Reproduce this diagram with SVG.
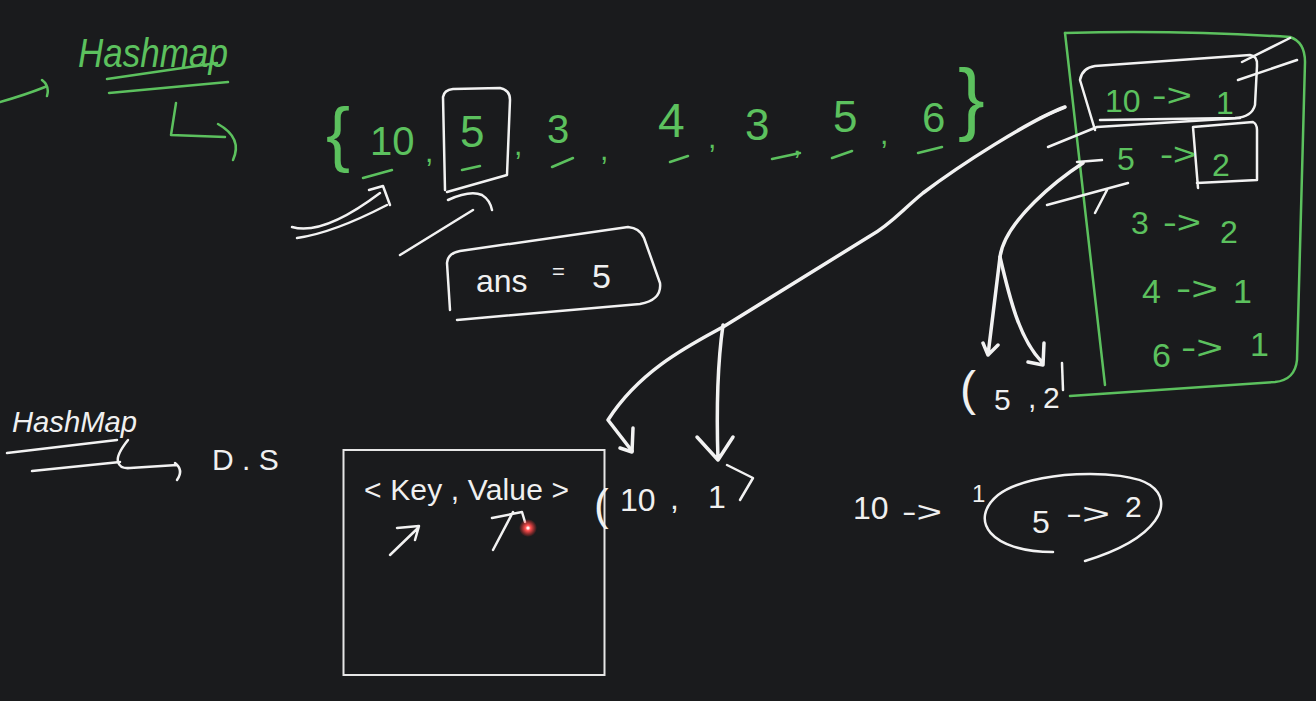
<svg xmlns="http://www.w3.org/2000/svg" width="1316" height="701" viewBox="0 0 1316 701">
<defs>
<style>
.gt{fill:#5cc15e;font-family:"Liberation Sans",Arial,sans-serif}
.wt{fill:#f0f0f0;font-family:"Liberation Sans",Arial,sans-serif}
.gs{fill:none;stroke:#5cc15e;stroke-width:2.5;stroke-linecap:round;stroke-linejoin:round}
.ws{fill:none;stroke:#f2f2f2;stroke-width:2.5;stroke-linecap:round;stroke-linejoin:round}
.wb{fill:none;stroke:#f2f2f2;stroke-width:3.5;stroke-linecap:round;stroke-linejoin:round}
</style>
<radialGradient id="laser">
<stop offset="0" stop-color="#ffe0e0"/>
<stop offset="0.3" stop-color="#ff5050"/>
<stop offset="1" stop-color="#ff3030" stop-opacity="0"/>
</radialGradient>
</defs>
<rect width="1316" height="701" fill="#1a1b1d"/>

<g id="title-hashmap-top">
<path class="gs" d="M0,102 Q25,95 45,87 M42,80 Q50,86 47,96"/>
<text class="gt" x="78" y="67" font-size="40" textLength="150" lengthAdjust="spacingAndGlyphs" font-style="italic">Hashmap</text>
<path class="gs" d="M107,79 L217,63 M109,93 L228,82"/>
<path class="gs" d="M176,103 L171,135 L225,137 M218,124 Q243,138 233,160"/>
</g>

<g id="array">
<text class="gt" x="326" y="158" font-size="72">{</text>
<text class="gt" x="370" y="155" font-size="40">10</text>
<path class="gs" d="M363,178 L392,170"/>
<text class="gt" x="425" y="162" font-size="30">,</text>
<text class="gt" x="460" y="147" font-size="44">5</text>
<path class="gs" d="M462,170 L480,166"/>
<text class="gt" x="514" y="155" font-size="30">,</text>
<text class="gt" x="547" y="143" font-size="40">3</text>
<path class="gs" d="M552,167 L573,158"/>
<text class="gt" x="600" y="160" font-size="30">,</text>
<text class="gt" x="658" y="137" font-size="48">4</text>
<path class="gs" d="M670,162 L688,156"/>
<text class="gt" x="708" y="148" font-size="30">,</text>
<text class="gt" x="745" y="140" font-size="44">3</text>
<path class="gs" d="M772,159 L800,153"/>
<text class="gt" x="793" y="154" font-size="30">,</text>
<text class="gt" x="833" y="132" font-size="44">5</text>
<path class="gs" d="M832,158 L852,151"/>
<text class="gt" x="880" y="144" font-size="30">,</text>
<text class="gt" x="922" y="132" font-size="42">6</text>
<path class="gs" d="M918,153 L942,147"/>
<text class="gt" x="958" y="125" font-size="80">}</text>
<path class="ws" d="M445,190 L443,97 Q444,90 453,89 L500,88 Q510,90 510,100 L507,175 L447,192"/>
</g>

<g id="ans-box">
<path class="ws" d="M450,310 L447,263 Q448,253 460,251 L628,227 Q640,228 644,238 L660,283 Q662,300 640,304 L457,320"/>
<text class="wt" x="476" y="292" font-size="32">ans</text>
<text class="wt" x="552" y="279" font-size="22">=</text>
<text class="wt" x="592" y="288" font-size="34">5</text>
</g>

<g id="map-box">
<path class="gs" d="M1065,33 L1105,385"/>
<path class="gs" d="M1065,33 Q1180,30 1290,37 Q1305,42 1305,62 L1297,360 Q1295,380 1275,382 L1070,396"/>
<path class="ws" d="M1080,80 Q1082,68 1095,66 L1250,55 Q1258,56 1257,66 L1255,105 Q1252,117 1235,118 L1100,120 M1080,80 L1095,130"/>
<path class="ws" d="M1242,62 L1290,38 M1238,80 L1297,60"/>
<path class="ws" d="M1193,127 L1253,122 Q1257,124 1257,130 L1257,180 L1197,183 M1193,127 L1198,188"/>
<path class="ws" d="M1048,147 L1097,127 L1240,118 M1040,118 L1065,107 M1077,162 L1102,160 M1047,205 L1128,183 M1095,213 L1107,190"/>
<text class="gt" font-size="32"><tspan x="1105" y="112">10</tspan><tspan x="1152" y="106" textLength="40" lengthAdjust="spacingAndGlyphs">-&gt;</tspan><tspan x="1216" y="114">1</tspan></text>
<text class="gt" font-size="32"><tspan x="1117" y="170">5</tspan><tspan x="1160" y="165" textLength="36" lengthAdjust="spacingAndGlyphs">-&gt;</tspan><tspan x="1212" y="176">2</tspan></text>
<text class="gt" font-size="32"><tspan x="1131" y="234">3</tspan><tspan x="1163" y="233" textLength="38" lengthAdjust="spacingAndGlyphs">-&gt;</tspan><tspan x="1220" y="243">2</tspan></text>
<text class="gt" font-size="34"><tspan x="1142" y="303">4</tspan><tspan x="1176" y="300" textLength="42" lengthAdjust="spacingAndGlyphs">-&gt;</tspan><tspan x="1233" y="303">1</tspan></text>
<text class="gt" font-size="34"><tspan x="1152" y="367">6</tspan><tspan x="1181" y="359" textLength="42" lengthAdjust="spacingAndGlyphs">-&gt;</tspan><tspan x="1250" y="356">1</tspan></text>
</g>

<g id="hashmap-label">
<text class="wt" x="12" y="432" font-size="30" textLength="125" lengthAdjust="spacingAndGlyphs" font-style="italic">HashMap</text>
<path class="ws" d="M7,453 L117,440 M32,471 L120,462"/>
<path class="ws" d="M128,440 Q116,455 118,462 Q120,469 130,468 L177,465 M175,463 Q184,470 177,480"/>
<text class="wt" x="212" y="470" font-size="30">D . S</text>
</g>

<g id="kv-box">
<rect x="343.5" y="450" width="261" height="225" fill="none" stroke="#e6e6e6" stroke-width="2"/>
<text class="wt" x="364" y="500" font-size="30" textLength="205">&lt; Key , Value &gt;</text>
<path class="ws" d="M390,555 L418,528 M397,528 L419,526 L415,540"/>
<path class="ws" d="M493,550 L513,512 M492,518 L522,512 L525,522"/>
<circle cx="528" cy="528" r="9" fill="url(#laser)"/>
<circle cx="528" cy="528" r="1.5" fill="#ffeeee"/>
</g>

<g id="pair-10-1">
<text class="wt" x="594" y="520" font-size="44">(</text>
<text class="wt" font-size="32"><tspan x="620" y="511">10</tspan><tspan x="670" y="509">,</tspan><tspan x="708" y="508">1</tspan></text>
<path class="ws" d="M727,465 L753,478 L740,500"/>
</g>

<g id="pair-5-2">
<text class="wt" x="960" y="405" font-size="48">(</text>
<text class="wt" font-size="30"><tspan x="994" y="410">5</tspan><tspan x="1028" y="408">,</tspan><tspan x="1043" y="408">2</tspan></text>
<path class="ws" d="M1062,363 L1063,390"/>
</g>

<g id="bottom-expr">
<text class="wt" x="853" y="519" font-size="32">10</text>
<text class="wt" x="902" y="522" font-size="30" textLength="40" lengthAdjust="spacingAndGlyphs">-&gt;</text>
<text class="wt" x="972" y="502" font-size="24">1</text>
<path class="ws" d="M1053,552 C990,552 968,520 998,495 C1030,470 1125,468 1150,485 C1175,502 1160,538 1085,561"/>
<text class="wt" x="1032" y="533" font-size="32">5</text>
<text class="wt" x="1066" y="524" font-size="30" textLength="44" lengthAdjust="spacingAndGlyphs">-&gt;</text>
<text class="wt" x="1125" y="517" font-size="30">2</text>
</g>

<g id="connectors">
<path class="wb" d="M1065,107 C1030,120 960,165 923,193 C900,212 890,225 870,236 L723,327 C690,345 640,370 608,420 L632,451"/>
<path class="wb" d="M633,428 L632,452 L620,448"/>
<path class="wb" d="M723,325 C718,360 716,400 718,460 M697,437 L718,460 L733,437"/>
<path class="wb" d="M1083,163 C1060,178 1005,220 1000,257 L988,355 M983,343 L988,355 L998,345"/>
<path class="wb" d="M1000,257 C1010,300 1020,340 1042,362 M1028,362 L1043,365 L1044,343"/>
<path class="ws" d="M292,227 Q323,236 380,193 M297,238 Q333,233 387,205 M369,190 L383,186 L390,205"/>
<path class="ws" d="M400,255 L473,210 M448,200 Q470,190 482,195 Q490,200 492,210"/>
</g>
</svg>
